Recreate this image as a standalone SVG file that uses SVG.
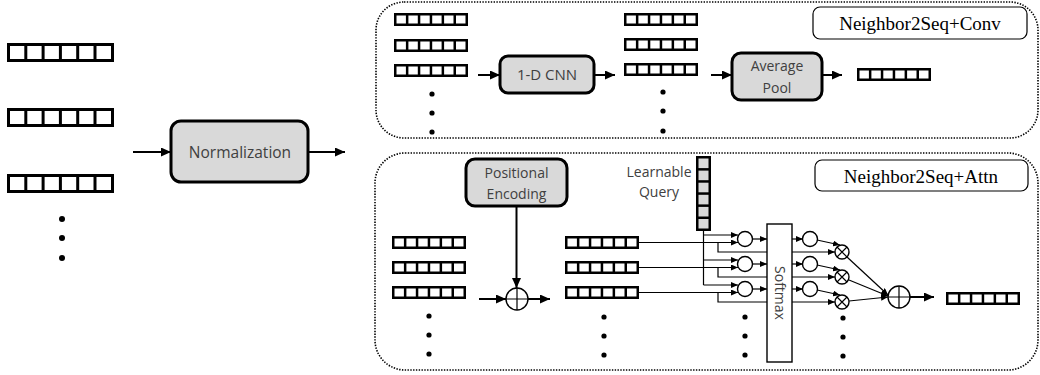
<svg xmlns="http://www.w3.org/2000/svg" xmlns:xlink="http://www.w3.org/1999/xlink" width="1040" height="375" viewBox="0 0 1040 375">
<style>
.frame{fill:none;stroke:#000;stroke-width:1.6;stroke-dasharray:1.4 1.4}
.blk{fill:#d9d9d9;stroke:#000;stroke-width:3}
.tag{fill:#fff;stroke:#000;stroke-width:1.2}
.sans{font-family:"Open Sans","Noto Sans",sans-serif;font-size:14px;fill:#404040;text-anchor:middle}
.big{font-size:15.5px}
.mid{font-size:15px}
.serif{font-family:"Liberation Serif","Times New Roman",serif;font-size:19px;fill:#000;text-anchor:middle}
.thick{fill:none;stroke:#000;stroke-width:2}
.thin{fill:none;stroke:#000;stroke-width:1.2}
.op{fill:#fff;stroke:#000;stroke-width:1.4}
.dot{fill:#000}
</style>
<defs>
<marker id="ah" markerUnits="userSpaceOnUse" markerWidth="10" markerHeight="9" refX="10" refY="4.5" orient="auto"><path d="M0,0 L10,4.5 L0,9 z" fill="#000"/></marker>
<marker id="as" markerUnits="userSpaceOnUse" markerWidth="7" markerHeight="6" refX="7" refY="3" orient="auto"><path d="M0,0 L7,3 L0,6 z" fill="#000"/></marker>
<g id="vL"><rect width="107" height="19" fill="#000"/><g fill="#fff"><rect x="3" y="3" width="14.3" height="13"/><rect x="20.3" y="3" width="14.3" height="13"/><rect x="37.6" y="3" width="14.3" height="13"/><rect x="54.9" y="3" width="14.3" height="13"/><rect x="72.2" y="3" width="14.3" height="13"/><rect x="89.5" y="3" width="14.5" height="13"/></g></g>
<g id="v"><rect width="74" height="13" fill="#000"/><g fill="#fff"><rect x="2.5" y="2.5" width="9.4" height="8"/><rect x="14.4" y="2.5" width="9.4" height="8"/><rect x="26.3" y="2.5" width="9.4" height="8"/><rect x="38.2" y="2.5" width="9.4" height="8"/><rect x="50.1" y="2.5" width="9.4" height="8"/><rect x="62" y="2.5" width="9.5" height="8"/></g></g>
<g id="vq"><rect width="15" height="75" fill="#000"/><g fill="#d9d9d9"><rect x="2.5" y="2.5" width="10" height="9.6"/><rect x="2.5" y="14.6" width="10" height="9.6"/><rect x="2.5" y="26.7" width="10" height="9.6"/><rect x="2.5" y="38.8" width="10" height="9.6"/><rect x="2.5" y="50.9" width="10" height="9.6"/><rect x="2.5" y="63" width="10" height="9.5"/></g></g>
</defs>

<g id="frames">
<rect class="frame" x="376" y="2" width="662" height="136" rx="28"/>
<rect class="frame" x="375" y="153" width="663" height="217" rx="30"/>
</g>

<g id="input-vectors">
<use xlink:href="#vL" x="7" y="43"/>
<use xlink:href="#vL" x="7" y="108"/>
<use xlink:href="#vL" x="7" y="174"/>
<circle class="dot" cx="62" cy="219" r="3"/><circle class="dot" cx="62" cy="238" r="3"/><circle class="dot" cx="62" cy="258" r="3"/>
</g>

<g id="normalization">
<rect class="blk" x="171" y="121" width="137" height="61" rx="10"/>
<text class="sans big" x="240" y="157.5">Normalization</text>
</g>

<g id="conv-label"><rect class="tag" x="813" y="7" width="214" height="32" rx="7"/><text class="serif" x="920" y="30">Neighbor2Seq+Conv</text></g>
<g id="conv-in">
<use xlink:href="#v" x="394" y="13"/><use xlink:href="#v" x="394" y="39"/><use xlink:href="#v" x="394" y="64"/>
<circle class="dot" cx="432" cy="94" r="2.6"/><circle class="dot" cx="432" cy="113" r="2.6"/><circle class="dot" cx="432" cy="132" r="2.6"/>
</g>
<g id="cnn"><rect class="blk" x="500" y="56" width="94" height="37" rx="8"/><text class="sans mid" x="547" y="80">1-D CNN</text></g>
<g id="conv-mid">
<use xlink:href="#v" x="624" y="13"/><use xlink:href="#v" x="624" y="38"/><use xlink:href="#v" x="624" y="63"/>
<circle class="dot" cx="663" cy="92" r="2.6"/><circle class="dot" cx="663" cy="111" r="2.6"/><circle class="dot" cx="663" cy="131" r="2.6"/>
</g>
<g id="avgpool"><rect class="blk" x="732" y="53" width="90" height="47" rx="9"/><text class="sans" x="777" y="71">Average</text><text class="sans" x="777" y="93">Pool</text></g>
<g id="conv-out"><use xlink:href="#v" x="857" y="68"/></g>

<g id="attn-label"><rect class="tag" x="815" y="160" width="213" height="31" rx="7"/><text class="serif" x="921" y="183">Neighbor2Seq+Attn</text></g>
<g id="attn-in">
<use xlink:href="#v" x="392" y="236"/><use xlink:href="#v" x="392" y="261"/><use xlink:href="#v" x="392" y="286"/>
<circle class="dot" cx="429" cy="316" r="2.6"/><circle class="dot" cx="429" cy="335" r="2.6"/><circle class="dot" cx="429" cy="354" r="2.6"/>
</g>
<g id="posenc"><rect class="blk" x="466" y="159" width="101" height="47" rx="9"/><text class="sans" x="516.5" y="178">Positional</text><text class="sans" x="516.5" y="199">Encoding</text></g>
<g id="add1"><circle class="op" cx="517" cy="299" r="11"/><path class="thin" d="M506,299 H528 M517,288 V310"/></g>
<g id="attn-mid">
<use xlink:href="#v" x="565" y="236"/><use xlink:href="#v" x="565" y="261"/><use xlink:href="#v" x="565" y="286"/>
<circle class="dot" cx="604" cy="317" r="2.6"/><circle class="dot" cx="604" cy="336" r="2.6"/><circle class="dot" cx="604" cy="355" r="2.6"/>
</g>
<g id="query">
<use xlink:href="#vq" x="696" y="156"/>
<text class="sans" x="659" y="177">Learnable</text><text class="sans" x="659" y="197">Query</text>
</g>
<g id="scores">
<circle class="op" cx="745" cy="239" r="7.5"/><circle class="op" cx="745" cy="264" r="7.5"/><circle class="op" cx="745" cy="289" r="7.5"/>
<circle class="dot" cx="745" cy="317" r="2.6"/><circle class="dot" cx="745" cy="336" r="2.6"/><circle class="dot" cx="745" cy="355" r="2.6"/>
</g>

<g id="connectors">
<line class="thick" x1="133" y1="152" x2="171" y2="152" marker-end="url(#ah)"/>
<line class="thick" x1="308" y1="152" x2="345" y2="152" marker-end="url(#ah)"/>
<line class="thick" x1="478" y1="75" x2="500" y2="75" marker-end="url(#ah)"/>
<line class="thick" x1="594" y1="75" x2="615" y2="75" marker-end="url(#ah)"/>
<line class="thick" x1="711" y1="75" x2="732" y2="75" marker-end="url(#ah)"/>
<line class="thick" x1="822" y1="75" x2="842" y2="75" marker-end="url(#ah)"/>
<line class="thick" x1="516.5" y1="206" x2="516.5" y2="288" marker-end="url(#ah)"/>
<line class="thick" x1="479" y1="299" x2="506" y2="299" marker-end="url(#ah)"/>
<line class="thick" x1="528" y1="299" x2="550" y2="299" marker-end="url(#ah)"/>
<path class="thin" d="M703.5,231 V285"/>
<line class="thin" x1="703.5" y1="235" x2="738" y2="235" marker-end="url(#as)"/>
<line class="thin" x1="703.5" y1="260" x2="738" y2="260" marker-end="url(#as)"/>
<line class="thin" x1="703.5" y1="285" x2="738" y2="285" marker-end="url(#as)"/>
<line class="thin" x1="639" y1="242.5" x2="738" y2="242.5" marker-end="url(#as)"/>
<line class="thin" x1="639" y1="267.5" x2="738" y2="267.5" marker-end="url(#as)"/>
<line class="thin" x1="639" y1="292.5" x2="738" y2="292.5" marker-end="url(#as)"/>
<path class="thin" d="M718,242.5 V252 H835" marker-end="url(#as)"/>
<path class="thin" d="M718,267.5 V277 H835" marker-end="url(#as)"/>
<path class="thin" d="M718,292.5 V302 H835" marker-end="url(#as)"/>
<line class="thin" x1="752.5" y1="239" x2="767" y2="239" marker-end="url(#as)"/>
<line class="thin" x1="752.5" y1="264" x2="767" y2="264" marker-end="url(#as)"/>
<line class="thin" x1="752.5" y1="289" x2="767" y2="289" marker-end="url(#as)"/>
</g>

<g id="softmax"><rect x="767" y="224" width="25" height="138" fill="#fff" stroke="#000" stroke-width="1.4"/><text class="sans" transform="translate(775,293) rotate(90)">Softmax</text></g>

<g id="connectors-2">
<line class="thin" x1="792" y1="239" x2="803" y2="239" marker-end="url(#as)"/>
<line class="thin" x1="792" y1="264" x2="803" y2="264" marker-end="url(#as)"/>
<line class="thin" x1="792" y1="289" x2="803" y2="289" marker-end="url(#as)"/>
<line class="thin" x1="817" y1="240" x2="840" y2="245" marker-end="url(#as)"/>
<line class="thin" x1="817" y1="265" x2="840" y2="270" marker-end="url(#as)"/>
<line class="thin" x1="817" y1="290" x2="840" y2="295" marker-end="url(#as)"/>
<line class="thin" x1="847" y1="257" x2="888" y2="295" marker-end="url(#as)"/>
<line class="thin" x1="849" y1="280" x2="888" y2="296" marker-end="url(#as)"/>
<line class="thin" x1="849" y1="301" x2="888" y2="297" marker-end="url(#as)"/>
<line class="thick" x1="910" y1="297" x2="934" y2="297" marker-end="url(#ah)"/>
</g>

<g id="weights">
<circle class="op" cx="810" cy="239" r="7.5"/><circle class="op" cx="810" cy="264" r="7.5"/><circle class="op" cx="810" cy="289" r="7.5"/>
</g>
<g id="mults">
<circle class="op" cx="842" cy="252" r="7"/><path class="thin" d="M837,247 L847,257 M847,247 L837,257"/>
<circle class="op" cx="842" cy="277" r="7"/><path class="thin" d="M837,272 L847,282 M847,272 L837,282"/>
<circle class="op" cx="842" cy="302" r="7"/><path class="thin" d="M837,297 L847,307 M847,297 L837,307"/>
<circle class="dot" cx="843" cy="318" r="2.6"/><circle class="dot" cx="843" cy="337" r="2.6"/><circle class="dot" cx="843" cy="356" r="2.6"/>
</g>
<g id="add2"><circle class="op" cx="899" cy="297" r="11"/><path class="thin" d="M888,297 H910 M899,286 V308"/></g>
<g id="attn-out"><use xlink:href="#v" x="946" y="292"/></g>
</svg>
